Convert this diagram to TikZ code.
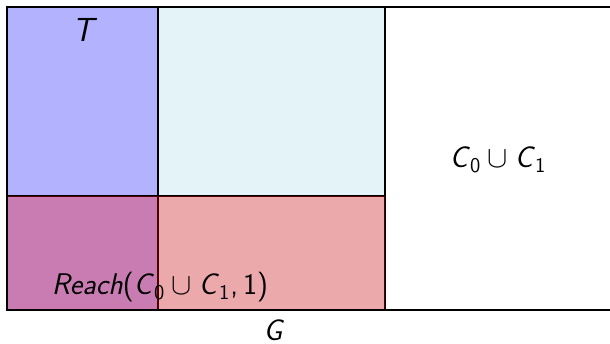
\documentclass[tikz,border=0pt]{standalone}
\usepackage{amsmath}
\usepackage{xcolor}
% sans-serif letters in math, as in slides
\newcommand{\sv}[1]{\textsf{\textit{#1}}}
\newcommand{\sn}[1]{\textsf{#1}}
\definecolor{midfill}{RGB}{228,243,247}
\tikzset{
  region/.style={draw=black,line width=1.1pt},
  lbl/.style={font=\fontsize{17}{20}\selectfont}
}

\begin{document}
\begin{tikzpicture}[x=0.02cm,y=0.02cm]
\useasboundingbox (0,0) rectangle (610,343);
% regions of G
\fill[blue!30] (7,33) rectangle (158,336);
\fill[midfill] (158,33) rectangle (385,336);
\draw[region] (158,336) -- (158,33);
\draw[region] (385,336) -- (385,33);
\draw[region] (7,147) -- (385,147);
\fill[red,fill opacity=0.3] (7,33) rectangle (385,147);
\draw[region] (7,147) -- (7,33);
% outer set, cut off at the right
\draw[region] (610,336) -- (7,336) -- (7,33) -- (610,33);
\node[lbl,font=\fontsize{19}{22}\selectfont] (t) at (85,313) {\(\sv{T}\)};
\node[lbl] (c) at (498,183) {\(\sv{C}_{\sn{0}}\cup\sv{C}_{\sn{1}}\)};
\node[lbl] (reach) at (160,56) {\(\sv{Reach}\sn{(}\sv{C}_{\sn{0}}\cup\sv{C}_{\sn{1}}\sn{,}\,\sn{1}\sn{)}\)};
\node[lbl,inner sep=0pt,anchor=south] (g) at (274,2) {\(\sv{G}\)};
\end{tikzpicture}
\end{document}
